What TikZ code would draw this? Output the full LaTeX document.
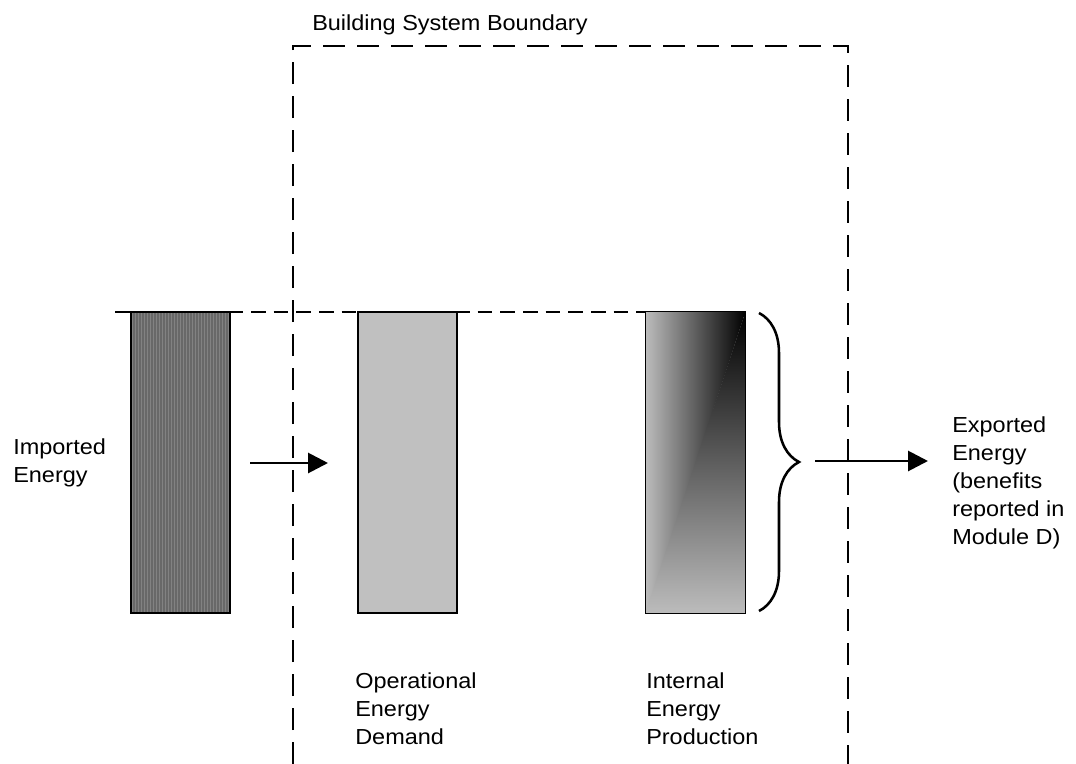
\documentclass[tikz,border=0pt]{standalone}
\usepackage{fontspec}
\setmainfont[FakeStretch=1.08]{Liberation Sans}
\usetikzlibrary{arrows.meta,decorations.pathreplacing}
\definecolor{darkbar}{RGB}{104,104,104}
\definecolor{stripe}{RGB}{130,130,130}
\definecolor{opgray}{RGB}{192,192,192}
\definecolor{gLight}{RGB}{188,188,188}
\begin{document}
\begin{tikzpicture}[x=0.75pt,y=-0.75pt,
  lbl/.style={anchor=north west,inner sep=0pt,align=left,font=\fontsize{16.3pt}{21pt}\selectfont},
  bar/.style={draw=black,line width=0.8pt,minimum width=74.25pt,minimum height=225.75pt,inner sep=0pt},
  flow/.style={line width=2.2pt,-{Triangle[length=15pt,width=15pt]}},
  boundary/.style={line width=1.1pt,dash pattern=on 16.5pt off 9pt},
  topline/.style={line width=1pt,dash pattern=on 11pt off 6pt}]
\useasboundingbox (0,0) rectangle (1076,764);
% boundary
\coordinate (bl) at (293,764);
\coordinate (tl) at (293,46);
\coordinate (tr) at (848,46);
\coordinate (br) at (848,764);
\draw[boundary] (bl) -- (tl) -- (tr) -- (br);
\node[lbl] (title) at (312,14) {Building System Boundary};
% top dashed reference line
\coordinate (tlA) at (115,312);
\coordinate (tlB) at (745,312);
\draw[topline] (tlA) -- (tlB);
% bars
\node[bar,fill=darkbar,
  path picture={\foreach \i in {0,...,32}{\draw[line width=0.9pt,stripe]
    ([xshift=\i*2.25pt+1.2pt]path picture bounding box.south west) -- ([xshift=\i*2.25pt+1.2pt]path picture bounding box.north west);}}]
  (imp) at (180.5,462.5) {};
\node[bar,fill=opgray] (op) at (407.5,462.5) {};
\node[bar] (int) at (695.5,462.5) {};
\begin{scope}
  \clip (int.north west) -- (int.north east) -- ([shift={(1pt,0pt)}]int.south west) -- (int.south west) -- cycle;
  \shade[left color=gLight,right color=black] (int.south west) rectangle (int.north east);
\end{scope}
\begin{scope}
  \clip (int.north east) -- (int.south east) -- (int.south west) -- cycle;
  \shade[top color=black,bottom color=gLight] (int.south west) rectangle (int.north east);
\end{scope}
\draw[bar] (imp.south west) rectangle (imp.north east);
\draw[bar] (int.south west) rectangle (int.north east);
% brace
\coordinate (bt) at (759,313);
\coordinate (bb) at (759,611);
\draw[line width=1.9pt,decorate,decoration={brace,amplitude=30pt}] (bt) -- (bb);
% arrows
\coordinate (a1s) at (250,463);
\coordinate (a1e) at (328,463);
\draw[flow] (a1s) -- (a1e);
\coordinate (a2s) at (815,461);
\coordinate (a2e) at (928,461);
\draw[flow] (a2s) -- (a2e);
% labels
\node[lbl] (limp) at (13,438) {Imported\\Energy};
\node[lbl] (lop) at (355,672) {Operational\\Energy\\Demand};
\node[lbl] (lint) at (646,672) {Internal\\Energy\\Production};
\node[lbl] (lexp) at (952,416) {Exported\\Energy\\(benefits\\reported in\\Module D)};
\end{tikzpicture}
\end{document}
